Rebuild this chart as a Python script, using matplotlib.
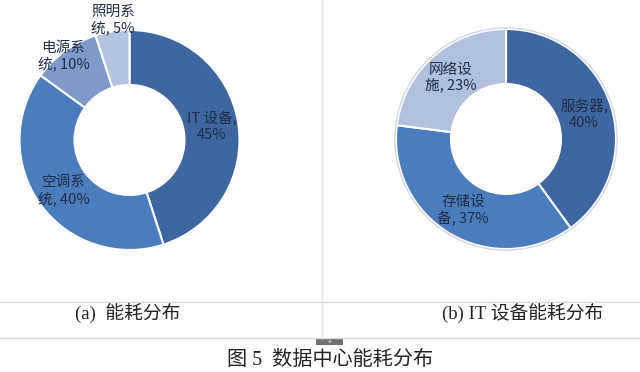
import matplotlib.pyplot as plt
from matplotlib.lines import Line2D

plt.rcParams['font.family'] = ['Noto Sans CJK SC', 'DejaVu Sans']

# data
left_labels = ['IT 设备,\n45%', '空调系\n统, 40%', '电源系\n统, 10%', '照明系\n统, 5%']
left_values = [45, 40, 10, 5]
left_colors = ['#3e66a0', '#4b7dbe', '#7e9ac8', '#b4c3de']

right_labels = ['服务器,\n40%', '存储设\n备, 37%', '网络设\n施, 23%']
right_values = [40, 37, 23]
right_colors = ['#3e66a0', '#4b7dbe', '#b0c0dd']

W, H = 640, 372
fig = plt.figure(figsize=(6.4, 3.72), dpi=100)

def donut_axes(cx, cy, r):
    # cx, cy, r in pixels, cy from the top
    return fig.add_axes([(cx - r) / W, (H - cy - r) / H, 2 * r / W, 2 * r / H])

def donut(ax, values, colors, labels, label_pos, edge):
    ax.pie(values, colors=colors, startangle=90, counterclock=False, radius=1,
           wedgeprops=dict(width=0.5, edgecolor='white', linewidth=1.5))
    if edge:
        ax.add_patch(plt.Circle((0, 0), 1.01, fill=False, ec='#d0d8e4', lw=1))
    for lab, (x, y) in zip(labels, label_pos):
        ax.text(x, y, lab, ha='center', va='center', fontsize=10.5, color='#1f2d45', linespacing=1.15)
    ax.set_xlim(-1.05, 1.05)
    ax.set_ylim(-1.05, 1.05)
    ax.axis('off')

ax1 = donut_axes(129.5, 140, 110 * 1.05)
donut(ax1, left_values, left_colors, left_labels,
      [(0.75, 0.12), (-0.6, -0.46), (-0.6, 0.76), (-0.15, 1.09)], False)

ax2 = donut_axes(506, 139, 110 * 1.05)
donut(ax2, right_values, right_colors, right_labels,
      [(0.71, 0.22), (-0.39, -0.65), (-0.5, 0.55)], True)

# frame lines
fig.add_artist(Line2D([0, 1], [1 - 302 / H] * 2, color='#d8d8d8', lw=1))
fig.add_artist(Line2D([0, 1], [1 - 338 / H] * 2, color='#d8d8d8', lw=1))
fig.add_artist(Line2D([322 / W] * 2, [1 - 338 / H, 1], color='#e4e4e4', lw=1))
fig.add_artist(plt.Rectangle((316 / W, 1 - 345 / H), 27 / W, 6 / H, color='#707070', lw=0))
fig.text(329.5 / W, 1 - 342 / H, '+', ha='center', va='center', fontsize=5, color='white')

serif = ['Liberation Serif', 'Noto Sans CJK SC']
fig.text(128 / W, 1 - 313 / H, '(a)  能耗分布', ha='center', va='center', fontsize=13.5, family=serif, color='#222222')
fig.text(523 / W, 1 - 313 / H, '(b) IT 设备能耗分布', ha='center', va='center', fontsize=13.5, family=serif, color='#222222')
fig.text(330 / W, 1 - 360 / H, '图 5  数据中心能耗分布', ha='center', va='center', fontsize=14.5, family=serif, color='#222222')

fig.savefig('out.png', dpi=100)
